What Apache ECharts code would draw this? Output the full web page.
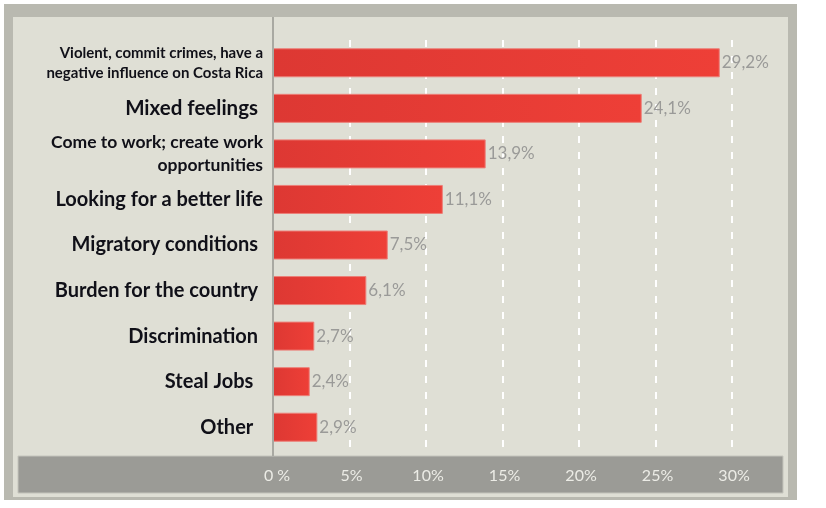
<!DOCTYPE html>
<html>
<head>
<meta charset="utf-8">
<script src="https://cdn.jsdelivr.net/npm/echarts@6/dist/echarts.min.js"></script>
<style>
  html, body { margin: 0; padding: 0; background: #fff; }
  #chart { width: 826px; height: 508px; }
</style>
</head>
<body>
<div id="chart"></div>
<script>
  // categories from top to bottom, as in the picture
  var categories = [
    'Violent, commit crimes, have a\nnegative influence on Costa Rica',
    'Mixed feelings ',
    'Come to work; create work\nopportunities',
    'Looking for a better life',
    'Migratory conditions ',
    'Burden for the country ',
    'Discrimination ',
    'Steal Jobs  ',
    'Other  '
  ];
  var values = [29.2, 24.1, 13.9, 11.1, 7.5, 6.1, 2.7, 2.4, 2.9];
  // label style per row (the source mixes font sizes)
  var labelStyles = ['s', 'x', 'm', 'l', 'l', 'l', 'l', 'l', 'l'];

  var chart = echarts.init(document.getElementById('chart'));

  var option = {
    backgroundColor: '#ffffff',
    animation: false,
    graphic: [
      // outer frame
      { type: 'rect', z: -9, shape: { x: 4, y: 4, width: 793, height: 496 }, style: { fill: '#b9b9b0' } },
      // inner panel
      { type: 'rect', z: -8, shape: { x: 13, y: 17, width: 775, height: 480 }, style: { fill: '#dfdfd5' } },
      // bottom band behind the x labels
      { type: 'rect', z: -7, shape: { x: 18, y: 456, width: 765, height: 37 }, style: { fill: '#9b9b96', stroke: '#c4c4bc', lineWidth: 1 } },
      // value axis zero line (runs the whole panel height)
      { type: 'line', z: 5, shape: { x1: 273, y1: 17, x2: 273, y2: 456 }, style: { stroke: '#a9a9a2', lineWidth: 2 } }
    ],
    grid: { left: 273, right: 94, top: 40, height: 410, containLabel: false },
    xAxis: {
      type: 'value',
      min: 0,
      max: 30,
      interval: 5,
      axisLine: { show: false },
      axisTick: { show: false },
      splitLine: { show: true, lineStyle: { color: '#ffffff', width: 2, type: [7, 9] } },
      axisLabel: {
        margin: 18,
        color: '#ecece6',
        fontFamily: 'Lato',
        fontSize: 16,
        formatter: function (v) { return v === 0 ? '  0 %' : ' ' + v + '%'; }
      }
    },
    yAxis: {
      type: 'category',
      inverse: true,
      data: categories,
      axisLine: { show: false },
      axisTick: { show: false },
      splitLine: { show: false },
      axisLabel: {
        margin: 10,
        formatter: function (v, i) {
          return v.split('\n').map(function (line) {
            return '{' + labelStyles[i] + '|' + line + '}';
          }).join('\n');
        },
        rich: {
          s: { fontFamily: 'Lato', fontWeight: 'bold', fontSize: 15, lineHeight: 20, color: '#101018', align: 'right' },
          m: { fontFamily: 'Lato', fontWeight: 'bold', fontSize: 17.5, lineHeight: 23, color: '#101018', align: 'right' },
          l: { fontFamily: 'Lato', fontWeight: 'bold', fontSize: 20, lineHeight: 24, color: '#101018', align: 'right' },
          x: { fontFamily: 'Lato', fontWeight: 'bold', fontSize: 20.5, lineHeight: 24, color: '#101018', align: 'right' }
        }
      }
    },
    series: [{
      type: 'bar',
      data: values,
      barWidth: 29,
      itemStyle: {
        color: new echarts.graphic.LinearGradient(0, 0, 1, 0, [
          { offset: 0, color: '#dd3833' },
          { offset: 1, color: '#ee3f37' }
        ]),
        borderColor: '#ec7f78',
        borderWidth: 1
      },
      label: {
        show: true,
        position: 'right',
        distance: 2,
        color: '#9a9a98',
        fontFamily: 'Lato',
        fontSize: 17,
        formatter: function (p) { return p.value.toFixed(1).replace('.', ',') + '%'; }
      }
    }]
  };

  chart.setOption(option);
</script>
</body>
</html>
